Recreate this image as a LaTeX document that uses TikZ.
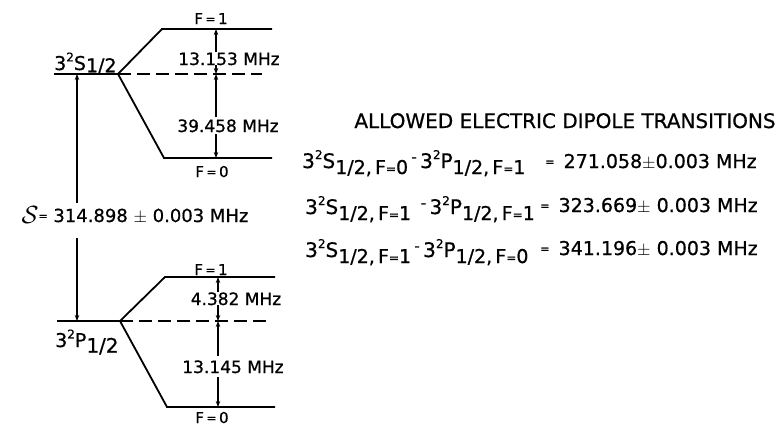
\documentclass[tikz,border=0pt]{standalone}
\usepackage{fontspec}
\setmainfont{DejaVu Sans}[BoldFont=DejaVu Sans,BoldFeatures={FakeBold=0.7}]
\usetikzlibrary{arrows.meta}
\newcommand\hiup[1]{\raisebox{0.45em}{\fontsize{12}{12}\selectfont #1}}
\newcommand\lodn[1]{\raisebox{-0.3em}{\fontsize{19}{19}\selectfont #1}}
\newcommand\midash{\,\raisebox{0.3em}{\fontsize{15}{15}\selectfont -}\,}
\newcommand\mideq{\raisebox{0.12em}{\fontsize{11}{11}\selectfont =}}
\newcommand\smeq{\raisebox{0.05em}{\fontsize{12}{12}\selectfont =}}
\begin{document}
\begin{tikzpicture}[x=1pt,y=-1pt,
  level/.style={line width=1.8pt},
  dashln/.style={line width=1.4pt,dash pattern=on 13pt off 6pt},
  arr/.style={line width=1.2pt,-{Stealth[length=6pt,width=4.5pt]}},
  lbl/.style={inner sep=0pt,anchor=base,font=\bfseries\fontsize{17}{17}\selectfont},
  flbl/.style={inner sep=0pt,anchor=base,font=\bfseries\fontsize{15}{15}\selectfont},
  txt/.style={inner sep=0pt,font=\bfseries\fontsize{20}{20}\selectfont,anchor=base west},
  val/.style={inner sep=0pt,font=\bfseries\fontsize{19}{19}\selectfont,anchor=base west}]
\useasboundingbox (0,0) rectangle (781,429);
% upper S level
\coordinate (sL) at (54,74);
\coordinate (sR) at (118,74);
\coordinate (s1L) at (162,29);
\coordinate (s1R) at (272,29);
\coordinate (s0L) at (164,158);
\coordinate (s0R) at (272,158);
\coordinate (sD) at (262,74);
\draw[level] (sL) -- (sR) -- (s1L) -- (s1R);
\draw[level] (sR) -- (s0L) -- (s0R);
\draw[dashln] (sR) -- (sD);
\coordinate (a1) at (216,29);
\coordinate (a2) at (216,74);
\coordinate (a3) at (216,158);
\node[flbl] (f1u) at (211,24) {F\,\smeq\,1};
\node[flbl] (f0u) at (212,177) {F\,\smeq\,0};
\node[lbl] (l13) at (229,65) {13.153 MHz};
\node[lbl] (l39) at (228,132) {39.458 MHz};
\draw[arr] (l13.north -| a1) -- (a1);
\draw[arr] (l13.south -| a2) -- (a2);
\draw[arr] ([yshift=2pt]l39.north -| a2) -- (a2);
\draw[arr] ([yshift=-2pt]l39.south -| a3) -- (a3);
\node[lbl,anchor=base west,font=\bfseries\fontsize{19}{19}\selectfont] (slab) at (54,70) {3\hiup{2}S\raisebox{-0.12em}{1/2}};
% lower P level
\coordinate (pL) at (57,321);
\coordinate (pR) at (120,321);
\coordinate (p1L) at (165,277);
\coordinate (p1R) at (275,277);
\coordinate (p0L) at (167,407);
\coordinate (p0R) at (275,407);
\coordinate (pD) at (271,321);
\draw[level] (pL) -- (pR) -- (p1L) -- (p1R);
\draw[level] (pR) -- (p0L) -- (p0R);
\draw[dashln] (pR) -- (pD);
\coordinate (b1) at (218,277);
\coordinate (b2) at (218,321);
\coordinate (b3) at (218,407);
\node[flbl] (f1l) at (211,275) {F\,\smeq\,1};
\node[flbl] (f0l) at (212,423) {F\,\smeq\,0};
\node[lbl] (l4) at (236,305) {4.382 MHz};
\node[lbl] (l13b) at (233,373) {13.145 MHz};
\draw[arr] (l4.north -| b1) -- (b1);
\draw[arr] (l4.south -| b2) -- (b2);
\draw[arr] ([yshift=4pt]l13b.north -| b2) -- (b2);
\draw[arr] ([yshift=-4pt]l13b.south -| b3) -- (b3);
\node[lbl,anchor=base west,font=\bfseries\fontsize{19}{19}\selectfont] (plab) at (55,347) {3\hiup{2}P\raisebox{-0.3em}{\fontsize{20}{20}\selectfont 1/2}};
% Lamb shift
\coordinate (c1) at (77,74);
\coordinate (c2) at (77,321);
\node[lbl,font=\bfseries\fontsize{18}{18}\selectfont] (shift) at (135,222) {\raisebox{-0.1em}{\fontsize{25}{25}\selectfont$\mathcal{S}$}\mideq\ 314.898 $\pm$ 0.003 MHz};
\draw[arr] ([yshift=4pt]shift.north -| c1) -- (c1);
\draw[arr] ([yshift=-14pt]shift.south -| c2) -- (c2);
% transitions
\node[inner sep=0pt,anchor=base,font=\bfseries\fontsize{20}{20}\selectfont] (title) at (565,128) {ALLOWED ELECTRIC DIPOLE TRANSITIONS};
\node[txt] (t1) at (302,168) {3\hiup{2}S\lodn{1/2,\,F\smeq0}\midash3\hiup{2}P\lodn{1/2,\,F\smeq1}};
\node[val] (v1) at (545,168) {\mideq\ \,271.058$\pm$0.003 MHz};
\node[txt] (t2) at (305,214) {3\hiup{2}S\lodn{1/2,\,F\smeq1} \midash3\hiup{2}P\lodn{1/2,\,F\smeq1}};
\node[val] (v2) at (540,212) {\mideq\ \,323.669$\pm$ 0.003 MHz};
\node[txt] (t3) at (305,257) {3\hiup{2}S\lodn{1/2,\,F\smeq1}\midash3\hiup{2}P\lodn{1/2,\,F\smeq0}};
\node[val] (v3) at (540,255) {\mideq\ \,341.196$\pm$ 0.003 MHz};
\end{tikzpicture}
\end{document}
